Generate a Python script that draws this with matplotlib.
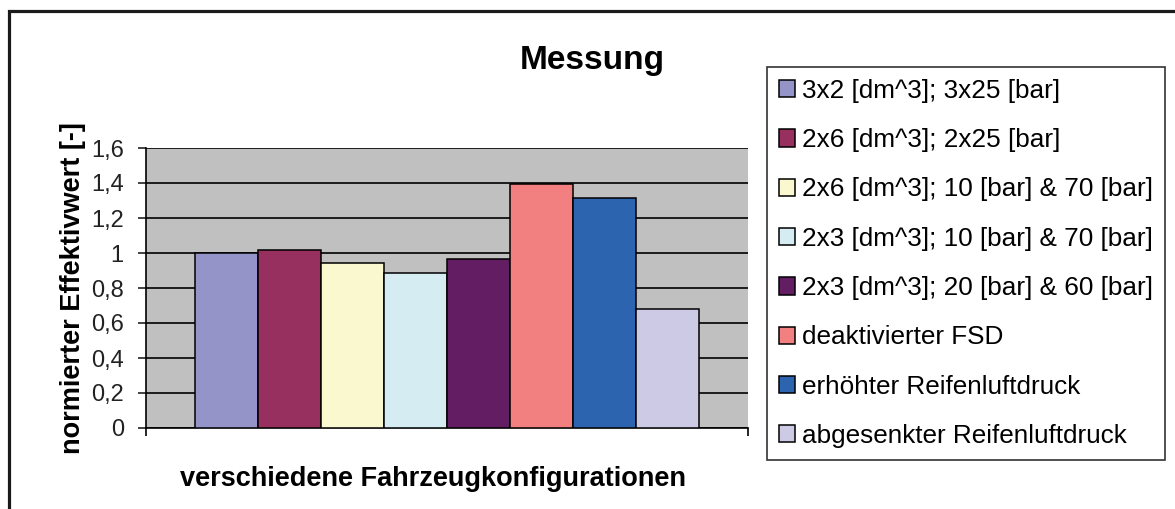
import numpy as np
import matplotlib.pyplot as plt
from matplotlib.patches import Rectangle

plt.rcParams['font.family'] = ['Liberation Sans', 'DejaVu Sans']

configs = [
    "3x2 [dm^3]; 3x25 [bar]",
    "2x6 [dm^3]; 2x25 [bar]",
    "2x6 [dm^3]; 10 [bar] & 70 [bar]",
    "2x3 [dm^3]; 10 [bar] & 70 [bar]",
    "2x3 [dm^3]; 20 [bar] & 60 [bar]",
    "deaktivierter FSD",
    "erhöhter Reifenluftdruck",
    "abgesenkter Reifenluftdruck",
]
values = [1.0, 1.02, 0.945, 0.887, 0.966, 1.397, 1.316, 0.678]
colors = ['#9494C8', '#98305F', '#FAF8CE', '#D4ECF2',
          '#631E63', '#F28080', '#2C64B0', '#CDCAE6']
yticks = [0, 0.2, 0.4, 0.6, 0.8, 1.0, 1.2, 1.4, 1.6]
ytick_labels = ['0', '0,2', '0,4', '0,6', '0,8', '1', '1,2', '1,4', '1,6']

W, H = 1175, 509
fig = plt.figure(figsize=(W / 100, H / 100), dpi=100)

# outer chart frame (runs off the right and bottom edge)
fig.patches.append(Rectangle((8.5 / W, -0.05), 1.2, 1 - 11 / H + 0.05,
                             transform=fig.transFigure, fill=False,
                             edgecolor='#1a1a1a', linewidth=2.3))

ax = fig.add_axes([146 / W, 1 - 428 / H, 602 / W, 280 / H])
ax.set_facecolor('#C0C0C0')

x = np.arange(len(values))
bars = ax.bar(x, values, width=1.0, color=colors, edgecolor='black',
              linewidth=1.1, zorder=3)

ax.set_xlim(-0.5 - 0.78, len(values) - 0.5 + 0.78)
ax.set_ylim(0, 1.6)
ax.set_yticks(yticks)
ax.set_yticklabels(ytick_labels)
ax.yaxis.grid(True, color='black', linewidth=1.2, zorder=1)
ax.tick_params(axis='y', direction='out', length=6, width=1.2,
               labelsize=17, pad=10, colors='#222222')
ax.set_xticks(ax.get_xlim())
ax.set_xticklabels([])
ax.tick_params(axis='x', direction='out', length=6, width=1.2)

for side in ['top', 'right']:
    ax.spines[side].set_visible(False)
ax.spines['left'].set_linewidth(1.2)
ax.spines['bottom'].set_linewidth(1.2)

ax.set_ylabel('normierter Effektivwert [-]', fontsize=19.5,
              fontweight='bold')
ax.yaxis.set_label_coords(-0.1, 0.5)
ax.set_xlabel('verschiedene Fahrzeugkonfigurationen', fontsize=19.5,
              fontweight='bold')
ax.xaxis.set_label_coords(0.477, -0.136)

fig.text(592 / W, 1 - 60 / H, 'Messung', fontsize=24, fontweight='bold',
         ha='center', va='center')

leg = fig.legend(bars.patches, configs, loc='upper left',
                 bbox_to_anchor=(767 / W, 1 - 67 / H), fontsize=18.8,
                 frameon=True, fancybox=False, shadow=False,
                 handlelength=0.64, handleheight=0.64, handletextpad=0.25,
                 labelspacing=0.97, borderpad=0.45, borderaxespad=0)
leg.get_frame().set_edgecolor('black')
leg.get_frame().set_linewidth(1.2)

fig.savefig('out.png', dpi=100, facecolor='white')
